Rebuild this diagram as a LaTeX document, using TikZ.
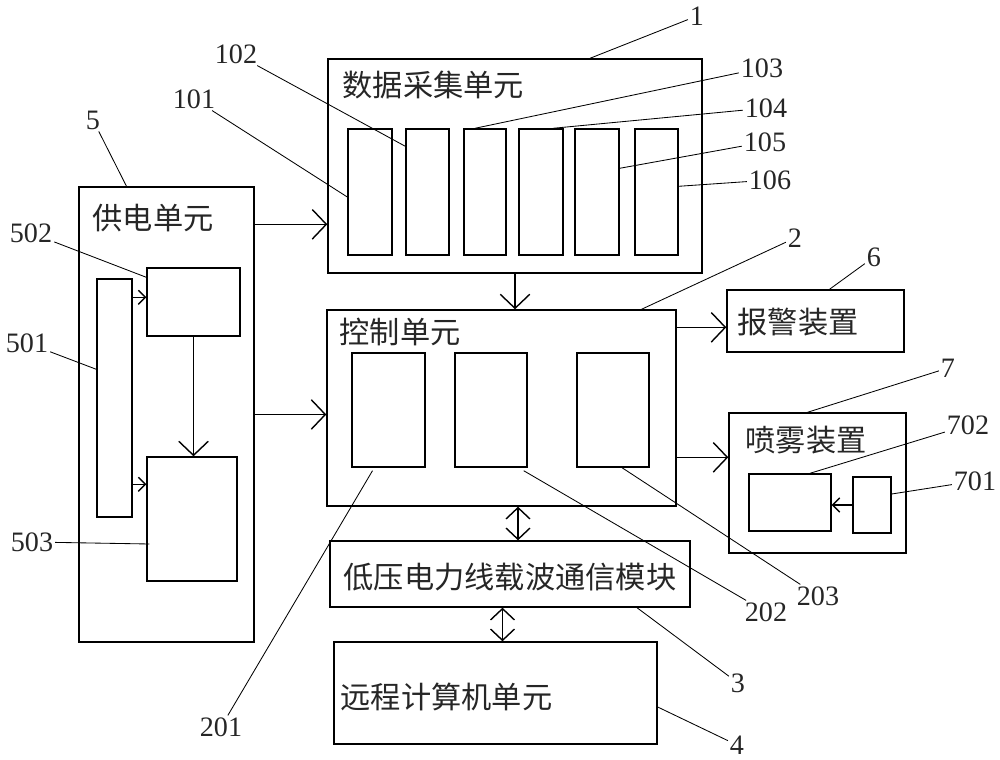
\documentclass[tikz,border=0pt]{standalone}
\usepackage{fontspec}
\setmainfont{Liberation Serif}
\newfontfamily\cjk{Noto Sans CJK SC}
\usepackage{tikz}
\usetikzlibrary{arrows.meta,calc,fit}

\begin{document}
\begin{tikzpicture}[x=0.025cm, y=-0.025cm, line width=1pt,
    box/.style={draw, inner sep=0pt, fit={#1}},
    title/.style={font=\cjk\fontsize{21.5}{24}\selectfont, anchor=west, inner sep=0pt, text=black!85},
    num/.style={font=\fontsize{20}{22}\selectfont, inner sep=1pt, text=black!85},
    lead/.style={line width=0.6pt},
    arr/.style={-{Straight Barb[length=10pt,width=21pt]}},
    sarr/.style={-{Straight Barb[length=5pt,width=10pt]}},
    darr/.style={{Straight Barb[length=8pt,width=17pt]}-{Straight Barb[length=8pt,width=17pt]}}]

    %% Background
    \useasboundingbox (0,0) rectangle (1000,760);

    % Data acquisition unit
    \node[box={(328,59) (702,273)}] (dat) {};
    \node[title] (tdat) at (342,85) {数据采集单元};
    \node[box={(348,129) (392,255)}] (r101) {};
    \node[box={(406,129) (449,255)}] (r102) {};
    \node[box={(464,129) (506,255)}] (r103) {};
    \node[box={(519,129) (563,255)}] (r104) {};
    \node[box={(575,129) (619,255)}] (r105) {};
    \node[box={(635,129) (678,255)}] (r106) {};

    % Power supply unit
    \node[box={(79,187) (254,642)}] (pwr) {};
    \node[title] (tpwr) at (92,218) {供电单元};
    \node[box={(97,279) (132,517)}] (r501) {};
    \node[box={(147,268) (240,336)}] (r502) {};
    \node[box={(147,457) (237,581)}] (r503) {};

    % Control unit
    \node[box={(327,310) (676,506)}] (ctl) {};
    \node[title] (tctl) at (339,332) {控制单元};
    \node[box={(352,353) (425,467)}] (r201) {};
    \node[box={(455,353) (527,467)}] (r202) {};
    \node[box={(577,353) (649,467)}] (r203) {};

    % Alarm and spray
    \node[box={(727,290) (904,352)}] (alm) {};
    \node[title] (talm) at (737,322) {报警装置};
    \node[box={(729,413) (906,553)}] (spr) {};
    \node[title] (tspr) at (745,440) {喷雾装置};
    \node[box={(749,474) (831,531)}] (r702) {};
    \node[box={(853,477) (891,533)}] (r701) {};

    % Communication and remote computer
    \node[box={(330,541) (690,607)}] (com) {};
    \node[title] (tcom) at (343,577) {低压电力线载波通信模块};
    \node[box={(334,642) (657,744)}] (rem) {};
    \node[title] (trem) at (340,697) {远程计算机单元};

    % Arrows
    \coordinate (a1) at ($(pwr.north east)+(0,38)$);
    \draw[arr] (a1) -- (a1 -| dat.west);
    \draw[arr] (pwr.east) -- (pwr.east -| ctl.west);
    \draw[arr] (dat.south) -- (dat.south |- ctl.north);
    \coordinate (a2) at ($(ctl.north east)+(0,18)$);
    \draw[arr] (a2) -- (a2 -| alm.west);
    \coordinate (a3) at ($(spr.north west)+(0,45)$);
    \draw[arr] (a3 -| ctl.east) -- (a3);
    \coordinate (a4) at ($(com.north)+(8,0)$);
    \draw[darr] (a4 |- ctl.south) -- (a4);
    \coordinate (a5) at ($(rem.north)+(7,0)$);
    \draw[darr] (a5 |- com.south) -- (a5);
    \coordinate (a6) at ($(r502.north west)+(0,30)$);
    \draw[sarr] (a6 -| r501.east) -- (a6);
    \coordinate (a7) at ($(r503.north west)+(0,28)$);
    \draw[sarr] (a7 -| r501.east) -- (a7);
    \draw[arr] (r502.south) -- (r502.south |- r503.north);
    \draw[sarr] (r701.west) -- (r701.west -| r702.east);

    % Labels
    \node[num] (l1) at (697,16) {1};
    \node[num] (l101) at (194,99) {101};
    \node[num] (l102) at (236,54) {102};
    \node[num] (l103) at (762,68) {103};
    \node[num] (l104) at (766,108) {104};
    \node[num] (l105) at (765,142) {105};
    \node[num] (l106) at (770,180) {106};
    \node[num] (l2) at (795,238) {2};
    \node[num] (l201) at (221,727) {201};
    \node[num] (l202) at (766,612) {202};
    \node[num] (l203) at (818,596) {203};
    \node[num] (l3) at (738,683) {3};
    \node[num] (l4) at (737,745) {4};
    \node[num] (l5) at (93,120) {5};
    \node[num] (l501) at (27,343) {501};
    \node[num] (l502) at (31,233) {502};
    \node[num] (l503) at (32,542) {503};
    \node[num] (l6) at (874,257) {6};
    \node[num] (l7) at (948,368) {7};
    \node[num] (l702) at (968,425) {702};
    \node[num] (l701) at (975,481) {701};

    % Leaders
    \draw[lead] (l1) -- ($(dat.north)+(75,0)$);
    \draw[lead] (l101) -- ($(r101.west)+(0,5)$);
    \draw[lead] (l102) -- ($(r102.north west)+(0,18)$);
    \draw[lead] (l103) -- ($(r103.north)+(-10,0)$);
    \draw[lead] (l104) -- ($(r104.north)+(12,0)$);
    \draw[lead] (l105) -- ($(r105.north east)+(0,40)$);
    \draw[lead] (l106) -- ($(r106.north east)+(0,58)$);
    \draw[lead] (l2) -- ($(ctl.north)+(140,0)$);
    \draw[lead] (l201) -- ($(r201.south)+(-16,3)$);
    \draw[lead] (l202) -- ($(r202.south east)+(-4,3)$);
    \draw[lead] (l203) -- ($(r203.south)+(9,0)$);
    \draw[lead] (l3) -- ($(com.south)+(127,0)$);
    \draw[lead] (l4) -- ($(rem.east)+(0,14)$);
    \draw[lead] (l5) -- ($(pwr.north)+(-40,0)$);
    \draw[lead] (l501) -- ($(r501.north west)+(0,91)$);
    \draw[lead] (l502) -- ($(r502.north west)+(0,10)$);
    \draw[lead] (l503) -- ($(r503.west)+(3,25)$);
    \draw[lead] (l6) -- ($(alm.north)+(14,0)$);
    \draw[lead] (l7) -- ($(spr.north)+(-10,0)$);
    \draw[lead] (l702) -- ($(r702.north)+(20,0)$);
    \draw[lead] (l701) -- ($(r701.east)+(0,-11)$);

\end{tikzpicture}
\end{document}
